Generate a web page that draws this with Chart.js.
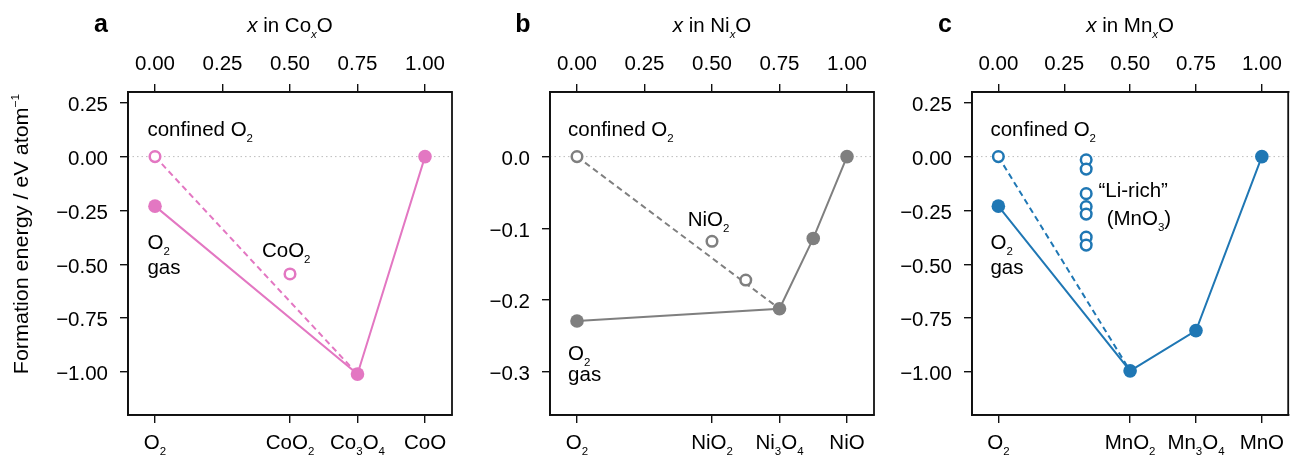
<!DOCTYPE html>
<html>
<head>
<meta charset="utf-8">
<script src="https://cdn.jsdelivr.net/npm/chart.js@4/dist/chart.umd.min.js"></script>
<style>
  html, body { margin: 0; padding: 0; background: #fff; }
  #wrap { position: relative; width: 1296px; height: 455px; }
  #wrap canvas { position: absolute; left: 0; top: 0; }
</style>
</head>
<body>
<div id="wrap">
  <canvas id="chart-co" width="1296" height="455"></canvas>
  <canvas id="chart-ni" width="1296" height="455"></canvas>
  <canvas id="chart-mn" width="1296" height="455"></canvas>
</div>
<script>
/* ── shared axis values ── */
const xTicks = [0, 0.25, 0.5, 0.75, 1];
const xMin = -0.1, xMax = 1.1;

/* ── a: Co ── */
const coCatX      = [0, 0.5, 0.75, 1];
const coCatLabels = ['O_{2}', 'CoO_{2}', 'Co_{3}O_{4}', 'CoO'];
const coHullX = [0, 0.75, 1];
const coHullE = [-0.23, -1.01, 0];
const coConfX = [0, 0.75];
const coConfE = [0, -1.01];
const coOpenX = [0, 0.5];
const coOpenE = [0, -0.545];
const coYTicks = [0.25, 0, -0.25, -0.5, -0.75, -1.0];

/* ── b: Ni ── */
const niCatX      = [0, 0.5, 0.75, 1];
const niCatLabels = ['O_{2}', 'NiO_{2}', 'Ni_{3}O_{4}', 'NiO'];
const niHullX = [0, 0.75, 0.875, 1];
const niHullE = [-0.229, -0.212, -0.114, 0];
const niConfX = [0, 0.75];
const niConfE = [0, -0.212];
const niOpenX = [0, 0.5, 0.625];
const niOpenE = [0, -0.118, -0.172];
const niYTicks = [0, -0.1, -0.2, -0.3];

/* ── c: Mn ── */
const mnCatX      = [0, 0.5, 0.75, 1];
const mnCatLabels = ['O_{2}', 'MnO_{2}', 'Mn_{3}O_{4}', 'MnO'];
const mnHullX = [0, 0.5, 0.75, 1];
const mnHullE = [-0.23, -0.995, -0.808, 0];
const mnConfX = [0, 0.5];
const mnConfE = [0, -0.995];
const mnOpenX = [0, 1/3, 1/3, 1/3, 1/3, 1/3, 1/3, 1/3];
const mnOpenE = [0, -0.015, -0.058, -0.172, -0.232, -0.267, -0.374, -0.411];
const mnYTicks = [0.25, 0, -0.25, -0.5, -0.75, -1.0];

/* ── text helpers (sub/superscripts, italic) ── */
const FONT = "'Liberation Sans', Arial, sans-serif";
const FS = 20.5, SX = 1.0;

function parseRich(str) {
  return str.split(/(~_\{[^}]*\}|_\{[^}]*\}|\^\{[^}]*\}|~\{[^}]*\})/).filter(s => s).map(s => {
    let m;
    if ((m = s.match(/^~_\{(.*)\}$/))) return { t: m[1], sub: true, it: true };
    if ((m = s.match(/^_\{(.*)\}$/)))  return { t: m[1], sub: true };
    if ((m = s.match(/^\^\{(.*)\}$/))) return { t: m[1], sup: true };
    if ((m = s.match(/^~\{(.*)\}$/)))  return { t: m[1], it: true };
    return { t: s };
  });
}
function partFont(p, bold, size) {
  const sz = (p.sub || p.sup) ? size * 0.56 : size;
  return (p.it ? 'italic ' : '') + (bold ? 'bold ' : '') + sz + 'px ' + FONT;
}
function drawRich(ctx, str, x, y, align, opt) {
  opt = opt || {};
  const size = opt.size || FS;
  const sx = opt.sx || SX;
  const parts = parseRich(str);
  let w = 0;
  parts.forEach(p => { ctx.font = partFont(p, opt.bold, size); p.w = ctx.measureText(p.t).width; w += p.w; });
  let x0 = align === 'center' ? -w / 2 : align === 'right' ? -w : 0;
  ctx.save();
  ctx.translate(x, y);
  if (opt.rot) ctx.rotate(opt.rot);
  ctx.scale(sx, 1);
  ctx.fillStyle = '#000';
  ctx.textAlign = 'left';
  ctx.textBaseline = 'alphabetic';
  parts.forEach(p => {
    ctx.font = partFont(p, opt.bold, size);
    const dy = p.sub ? size * 0.3 : p.sup ? -size * 0.42 : 0;
    ctx.fillText(p.t, x0, dy);
    x0 += p.w;
  });
  ctx.restore();
}
const fmt = (v, d) => (v < 0 ? '\u2212' : '') + Math.abs(v).toFixed(d);

/* ── panels ── */
const panels = [
  {
    id: 'chart-co', tag: 'a', title: '~{x} in Co~_{x}O', color: '#e377c2',
    left: 128, right: 452, yMin: -1.2, yMax: 0.3, yTicks: coYTicks, yDec: 2,
    catX: coCatX, catLabels: coCatLabels,
    hullX: coHullX, hullE: coHullE, confX: coConfX, confE: coConfE, openX: coOpenX, openE: coOpenE,
    notes: [
      ['confined O_{2}', -0.028, 0.097],
      ['O_{2}', -0.028, -0.427],
      ['gas', -0.028, -0.544],
      ['CoO_{2}', 0.396, -0.467],
    ],
    yTitle: true,
  },
  {
    id: 'chart-ni', tag: 'b', title: '~{x} in Ni~_{x}O', color: '#7f7f7f',
    left: 550, right: 874, yMin: -0.36, yMax: 0.09, yTicks: niYTicks, yDec: 1,
    catX: niCatX, catLabels: niCatLabels,
    hullX: niHullX, hullE: niHullE, confX: niConfX, confE: niConfE, openX: niOpenX, openE: niOpenE,
    notes: [
      ['confined O_{2}', -0.033, 0.029],
      ['NiO_{2}', 0.41, -0.096],
      ['O_{2}', -0.033, -0.283],
      ['gas', -0.033, -0.313],
    ],
  },
  {
    id: 'chart-mn', tag: 'c', title: '~{x} in Mn~_{x}O', color: '#1f77b4',
    left: 972, right: 1294, yMin: -1.2, yMax: 0.3, yTicks: mnYTicks, yDec: 2,
    catX: mnCatX, catLabels: mnCatLabels,
    hullX: mnHullX, hullE: mnHullE, confX: mnConfX, confE: mnConfE, openX: mnOpenX, openE: mnOpenE,
    notes: [
      ['confined O_{2}', -0.03, 0.097],
      ['O_{2}', -0.03, -0.427],
      ['gas', -0.03, -0.544],
      ['\u201CLi-rich\u201D', 0.38, -0.189],
      ['(MnO_{3})', 0.411, -0.316],
    ],
  },
];

const pts = (xs, ys) => xs.map((x, i) => ({ x, y: ys[i] }));

function decoPlugin(P) {
  return {
    id: 'deco-' + P.tag,
    afterDraw(chart) {
      const ctx = chart.ctx, ca = chart.chartArea;
      const sx = chart.scales.x, sy = chart.scales.y;
      // frame
      ctx.save();
      ctx.strokeStyle = '#111';
      ctx.lineWidth = 1.8;
      ctx.strokeRect(ca.left, ca.top, ca.right - ca.left, ca.bottom - ca.top);
      ctx.restore();
      // top ticks
      xTicks.forEach(v => drawRich(ctx, v.toFixed(2), sx.getPixelForValue(v), 70, 'center'));
      // bottom compound labels
      P.catX.forEach((v, i) => drawRich(ctx, P.catLabels[i], sx.getPixelForValue(v), 449, 'center'));
      // y ticks
      P.yTicks.forEach(v => drawRich(ctx, fmt(v, P.yDec), ca.left - 20, sy.getPixelForValue(v) + 8.3, 'right'));
      // titles
      drawRich(ctx, P.title, sx.getPixelForValue(0.5), 32, 'center');
      drawRich(ctx, P.tag, ca.left - 27, 32, 'center', { bold: true, size: 25 });
      if (P.yTitle) drawRich(ctx, 'Formation energy / eV atom^{\u22121}', 28, 234, 'center', { rot: -Math.PI / 2, sx: 1.05 });
      // annotations
      P.notes.forEach(n => drawRich(ctx, n[0], sx.getPixelForValue(n[1]), sy.getPixelForValue(n[2]), 'left'));
    }
  };
}

panels.forEach(P => {
  new Chart(document.getElementById(P.id), {
    type: 'scatter',
    data: {
      datasets: [
        { // open circles
          data: pts(P.openX, P.openE), showLine: false,
          pointRadius: 5.3, pointBorderWidth: 2.5, pointBorderColor: P.color, pointBackgroundColor: '#fff',
        },
        { // stable hull
          data: pts(P.hullX, P.hullE), showLine: true,
          borderColor: P.color, borderWidth: 2,
          pointRadius: 6.8, pointBorderWidth: 0, pointBackgroundColor: P.color,
        },
        { // confined O2 tie line
          data: pts(P.confX, P.confE), showLine: true,
          borderColor: P.color, borderWidth: 2, borderDash: [6, 4], pointRadius: 0,
        },
        { // zero reference
          data: pts([xMin, xMax], [0, 0]), showLine: true,
          borderColor: '#bdbdbd', borderWidth: 1, borderDash: [1.5, 3], pointRadius: 0,
        },
      ]
    },
    options: {
      responsive: false, animation: false,
      layout: { padding: { left: 0, top: 0, bottom: 0, right: 1296 - P.right } },
      plugins: { legend: { display: false }, tooltip: { enabled: false } },
      scales: {
        x: {
          type: 'linear', position: 'top', min: xMin, max: xMax,
          afterBuildTicks: s => { s.ticks = xTicks.map(v => ({ value: v })); },
          afterFit: s => { s.height = 92; },
          ticks: { display: false },
          grid: { drawOnChartArea: false, drawTicks: true, tickLength: 8, color: '#111', lineWidth: 1.4 },
          border: { display: true, color: '#111', width: 1.8 },
        },
        x2: {
          type: 'linear', position: 'bottom', min: xMin, max: xMax,
          afterBuildTicks: s => { s.ticks = P.catX.map(v => ({ value: v })); },
          afterFit: s => { s.height = 40; },
          ticks: { display: false },
          grid: { drawOnChartArea: false, drawTicks: true, tickLength: 8, color: '#111', lineWidth: 1.4 },
          border: { display: true, color: '#111', width: 1.8 },
        },
        y: {
          type: 'linear', position: 'left', min: P.yMin, max: P.yMax,
          afterBuildTicks: s => { s.ticks = P.yTicks.map(v => ({ value: v })); },
          afterFit: s => { s.width = P.left; },
          ticks: { display: false },
          grid: { drawOnChartArea: false, drawTicks: true, tickLength: 8, color: '#111', lineWidth: 1.4 },
          border: { display: true, color: '#111', width: 1.8 },
        }
      }
    },
    plugins: [decoPlugin(P)]
  });
});
</script>
</body>
</html>
